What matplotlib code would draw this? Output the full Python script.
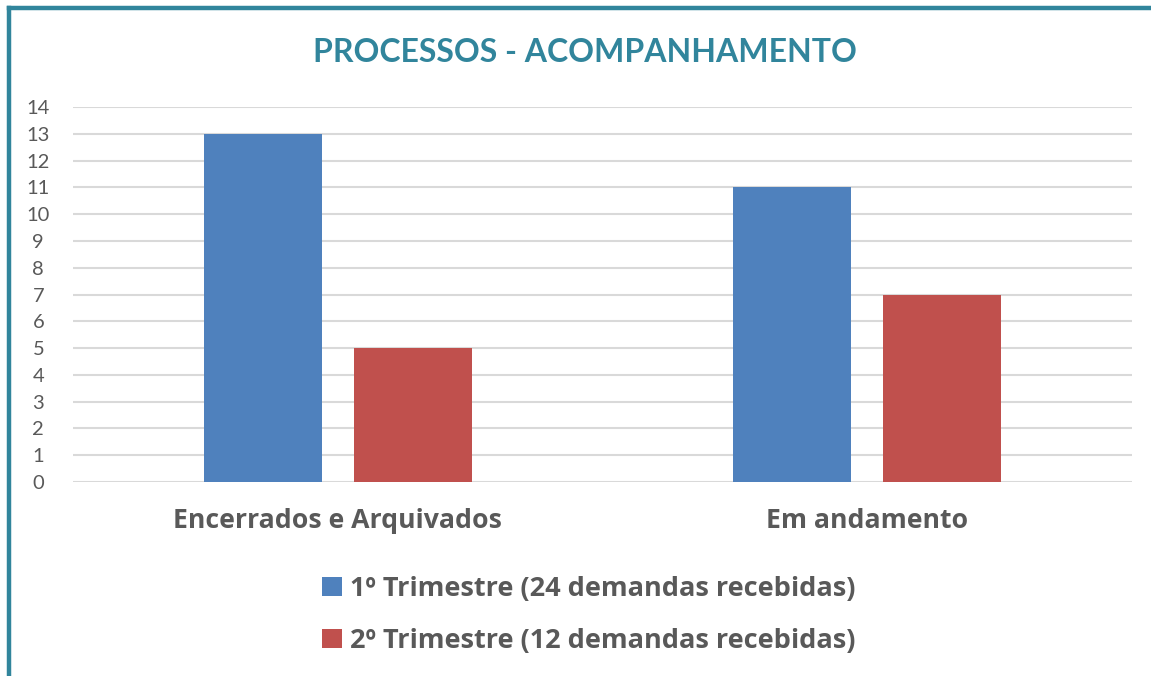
import matplotlib.pyplot as plt
import numpy as np
from matplotlib.lines import Line2D

categories = ['Encerrados e Arquivados', 'Em andamento']
series = ['1º Trimestre (24 demandas recebidas)', '2º Trimestre (12 demandas recebidas)']
values_t1 = [13, 11]
values_t2 = [5, 7]
colors = ['#4F81BD', '#C0504D']

plt.rcParams['font.family'] = ['Lato', 'DejaVu Sans']

W, H = 1151, 676
fig = plt.figure(figsize=(W / 100, H / 100), dpi=100)
fig.patch.set_facecolor('white')

# axes box in pixels: left 73, right 1132, top 107, bottom 482
ax = fig.add_axes([73 / W, 1 - 482 / H, (1132 - 73) / W, (482 - 107) / H])

x = np.arange(len(categories))
w = 0.223
off = 0.1415
b1 = ax.bar(x - off, values_t1, w, color=colors[0], label=series[0], zorder=3)
b2 = ax.bar(x + off, values_t2, w, color=colors[1], label=series[1], zorder=3)

ax.set_xlim(-0.5, 1.5)
ax.set_ylim(0, 14)
ax.set_yticks(range(0, 15))
ax.set_xticks(x)
ax.set_xticklabels(categories, fontsize=19.2, fontweight='bold', color='#595959',
                   family=['Open Sans', 'DejaVu Sans'])
ax.tick_params(axis='x', length=0, pad=19)
ax.tick_params(axis='y', length=0, labelsize=14.5, labelcolor='#595959', pad=25)
for lbl in ax.get_yticklabels():
    lbl.set_horizontalalignment('center')
ax.grid(axis='y', color='#D9D9D9', linewidth=1.5, zorder=0)
for s in ax.spines.values():
    s.set_visible(False)

fig.text(585 / W, 1 - 52 / H, 'PROCESSOS - ACOMPANHAMENTO', ha='center', va='center',
         fontsize=23, fontweight='bold', color='#31859C')

leg = fig.legend(handles=[b1, b2], loc='center', bbox_to_anchor=(589 / W, 1 - 615 / H),
                 ncol=1, frameon=False, handlelength=0.72, handleheight=0.72,
                 handletextpad=0.3, labelspacing=0.95,
                 prop={'size': 19.5, 'weight': 'bold', 'family': ['Open Sans', 'DejaVu Sans']})
for t in leg.get_texts():
    t.set_color('#595959')

# frame lines (top and left)
fig.add_artist(Line2D([9 / W, 1], [1 - 8 / H, 1 - 8 / H], transform=fig.transFigure,
                      color='#31859C', linewidth=3.2))
fig.add_artist(Line2D([9 / W, 9 / W], [0, 1 - 8 / H], transform=fig.transFigure,
                      color='#31859C', linewidth=3.2))

fig.savefig('out.png', dpi=100)
